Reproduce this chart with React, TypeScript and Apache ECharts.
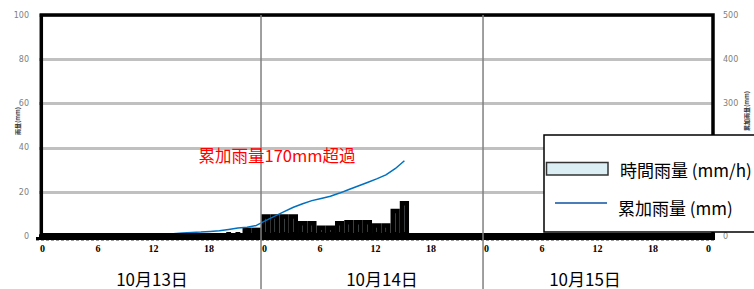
import React, { useEffect, useRef } from "react";
import * as echarts from "echarts";

// Hourly rainfall (mm/h), one value per hour from 10/13 0:00 to 10/15 23:00
const hourlyRain: number[] = [
  // 10/13
  0, 0, 0, 0, 0, 0, 0, 0, 0, 0.5, 0.5, 0.5,
  0.5, 0.5, 1, 1, 0.5, 0.5, 0.5, 0.5, 2, 2, 4, 4,
  // 10/14
  10, 10, 10, 10, 7, 7, 5, 5, 7, 7.5, 7.5, 7.5,
  6, 6, 12.5, 16, 0, 0, 0, 0, 0, 0, 0, 0,
  // 10/15
  0, 0, 0, 0, 0, 0, 0, 0, 0, 0, 0, 0,
  0, 0, 0, 0, 0, 0, 0, 0, 0, 0, 0, 0,
];

// Cumulative rainfall (mm), per hour
const cumulativeRain: (number | null)[] = [
  // 10/13
  null, null, null, null, null, null, null, null, null, 1, 1.5, 2,
  3, 4, 6, 8, 9, 10, 11.5, 13, 16, 19, 21, 25,
  // 10/14
  36, 46, 56, 66, 74, 81, 86, 91, 98, 106, 114, 122,
  130, 139, 153, 171, null, null, null, null, null, null, null, null,
  // 10/15
  null, null, null, null, null, null, null, null, null, null, null, null,
  null, null, null, null, null, null, null, null, null, null, null, null,
];

const dayLabels = ["10月13日", "10月14日", "10月15日"];
const dayBoundaries = [24, 48];
const annotationText = "累加雨量170mm超過";
const legendNames = ["時間雨量 (mm/h)", "累加雨量 (mm)"];
const leftAxisTitle = "雨量(mm)";
const rightAxisTitle = "累加雨量(mm)";
// right-axis ticks hidden behind the legend box in the reference
const rightHiddenTicks = [100, 200];

const CJK = "'Noto Sans CJK JP', 'Noto Sans', sans-serif";

export default function App() {
  const ref = useRef<HTMLDivElement>(null);

  useEffect(() => {
    if (!ref.current) return;
    const chart = echarts.init(ref.current, undefined, { renderer: "svg" });

    const option: any = {
      animation: false,
      grid: { left: 39, right: 41, top: 15, bottom: 52.5 },
      xAxis: {
        type: "value",
        min: 0,
        max: 72.86,
        interval: 6,
        axisLine: { show: false },
        axisTick: { show: false },
        splitLine: { show: false },
        axisLabel: {
          formatter: (v: number) =>
            Math.abs(v % 6) < 1e-6 && v <= 72 ? String(v % 24) : "",
          color: "#000",
          fontFamily: "'Liberation Serif', serif",
          fontWeight: "bold",
          fontSize: 10,
          margin: 7,
          padding: [0, 0, 0, 7],
        },
      },
      yAxis: [
        {
          type: "value",
          min: 0,
          max: 100,
          interval: 20,
          axisLine: { show: false },
          axisTick: { show: false },
          splitLine: { lineStyle: { color: "#c0c0c0", width: 3 } },
          axisLabel: {
            color: "#808080",
            fontSize: 8,
            margin: 10,
            fontFamily: "'DejaVu Sans', sans-serif",
          },
        },
        {
          type: "value",
          min: 0,
          max: 500,
          interval: 100,
          position: "right",
          axisLine: { show: false },
          axisTick: { show: false },
          splitLine: { show: false },
          axisLabel: {
            color: "#808080",
            fontSize: 8,
            margin: 10,
            fontFamily: "'DejaVu Sans', sans-serif",
            formatter: (v: number) =>
              rightHiddenTicks.includes(v) ? "" : String(v),
          },
        },
      ],
      series: [
        {
          type: "bar",
          name: legendNames[0],
          data: hourlyRain.map((v, i) => [i + 0.5, v]),
          barWidth: 9.25,
          itemStyle: { color: "#daeef3", borderColor: "#000", borderWidth: 4.5 },
          z: 3,
        },
        {
          type: "line",
          name: legendNames[1],
          yAxisIndex: 1,
          data: cumulativeRain.map((v, i) => [i + 0.5, v]),
          symbol: "none",
          showSymbol: false,
          lineStyle: { color: "#0070c0", width: 1.5 },
          z: 4,
        },
      ],
    };
    chart.setOption(option);

    const dayLineX = dayBoundaries.map(
      (h) => chart.convertToPixel({ xAxisIndex: 0 }, h) as number
    );
    const dayLabelX = [152, 382, 585];

    const graphic: any[] = [
      // plot frame
      {
        type: "rect",
        shape: { x: 41.3, y: 15, width: 671.7, height: 221.5 },
        style: { fill: "none", stroke: "#000", lineWidth: 3.5 },
        z: 20,
      },
      // baseline band
      {
        type: "rect",
        shape: { x: 40, y: 233, width: 675, height: 7 },
        style: { fill: "#000" },
        z: 20,
      },
      {
        type: "rect",
        shape: { x: 36, y: 237, width: 4, height: 3 },
        style: { fill: "#000" },
        z: 20,
      },
      {
        type: "line",
        shape: { x1: 36, y1: 240.5, x2: 715, y2: 240.5 },
        style: { stroke: "#9a9a9a", lineWidth: 1, lineDash: [3, 2] },
        z: 19,
      },
      // day separators
      ...dayLineX.map((x) => ({
        type: "line",
        shape: { x1: x, y1: 15, x2: x, y2: 289 },
        style: { stroke: "#808080", lineWidth: 1.5 },
        z: 30,
      })),
      // day labels
      ...dayLabels.map((t, i) => ({
        type: "text",
        x: dayLabelX[i],
        y: 278,
        style: {
          text: t,
          fill: "#000",
          font: `17px ${CJK}`,
          align: "center",
          verticalAlign: "middle",
        },
        z: 30,
      })),
      // annotation
      {
        type: "text",
        x: 277,
        y: 155,
        style: {
          text: annotationText,
          fill: "#ff0000",
          font: `16.5px ${CJK}`,
          align: "center",
          verticalAlign: "middle",
        },
        z: 30,
      },
      // axis titles
      {
        type: "text",
        x: 17,
        y: 121,
        rotation: Math.PI / 2,
        style: {
          text: leftAxisTitle,
          fill: "#333",
          font: `bold 6px ${CJK}`,
          align: "center",
          verticalAlign: "middle",
        },
        z: 30,
      },
      {
        type: "text",
        x: 746,
        y: 111,
        rotation: Math.PI / 2,
        style: {
          text: rightAxisTitle,
          fill: "#333",
          font: `bold 6px ${CJK}`,
          align: "center",
          verticalAlign: "middle",
        },
        z: 30,
      },
      // legend box
      {
        type: "rect",
        shape: { x: 544, y: 135, width: 220, height: 97 },
        style: { fill: "#fff", stroke: "#000", lineWidth: 1.5 },
        z: 100,
      },
      {
        type: "rect",
        shape: { x: 546.5, y: 162.5, width: 61.5, height: 12.5 },
        style: { fill: "#daeef3", stroke: "#333", lineWidth: 1.5 },
        z: 101,
      },
      {
        type: "line",
        shape: { x1: 555, y1: 203, x2: 607, y2: 203 },
        style: { stroke: "#4a7ebb", lineWidth: 2 },
        z: 101,
      },
      {
        type: "text",
        x: 620,
        y: 169,
        style: {
          text: legendNames[0],
          fill: "#000",
          font: `17px ${CJK}`,
          align: "left",
          verticalAlign: "middle",
        },
        z: 101,
      },
      {
        type: "text",
        x: 618,
        y: 207,
        style: {
          text: legendNames[1],
          fill: "#000",
          font: `17px ${CJK}`,
          align: "left",
          verticalAlign: "middle",
        },
        z: 101,
      },
    ];
    chart.setOption({ graphic });

    return () => chart.dispose();
  }, []);

  return (
    <div
      ref={ref}
      style={{ width: 754, height: 289, position: "absolute", left: 0, top: 0 }}
    />
  );
}
